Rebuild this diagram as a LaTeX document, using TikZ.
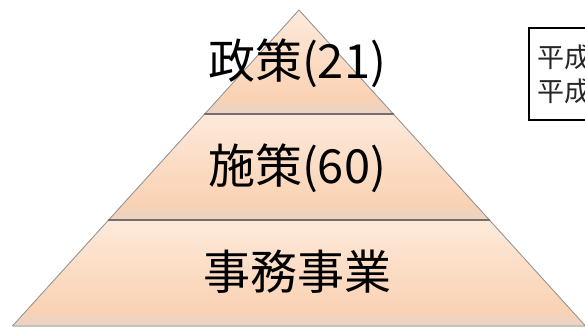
\documentclass[tikz,border=0pt]{standalone}
\usepackage{fontspec}
\usepackage{tikz}
\usepackage{tkz-euclide}
\usepackage{xcolor}
\setmainfont{Noto Sans CJK JP}

\definecolor{bandtop}{RGB}{253,234,219}
\definecolor{bandmid}{RGB}{250,210,180}
\definecolor{bandlow}{RGB}{233,212,198}
\definecolor{sepgray}{RGB}{120,110,105}
\pgfdeclareverticalshading{peach}{100bp}{color(0bp)=(bandlow); color(25bp)=(bandlow);
  color(33bp)=(bandmid); color(75bp)=(bandtop); color(100bp)=(bandtop)}

\begin{document}
\begin{tikzpicture}[x=1pt,y=1pt,
    band/.style={shade,shading=peach},
    outline/.style={draw=gray!80,line width=0.9pt},
    sepline/.style={draw=sepgray,line width=1.8pt},
    level/.style={font=\fontsize{47}{50}\selectfont},
    memo/.style={draw,line width=2.4pt,anchor=north west,minimum height=92pt,
      text width=80pt,inner xsep=8pt,align=left,
      font=\fontsize{27}{34}\selectfont,text=black!85}]
    \clip (0,0) rectangle (585,334);
    \tkzDefPoints{299/324/A,204.7/220/B,393.3/220/C,108.6/114/D,489.4/114/E,12.5/8/F,585.5/8/G}
    % \tkzDrawPoints(A,B,C,D,E,F,G)
    \tkzFillPolygon[band](A,B,C)
    \tkzFillPolygon[band](B,D,E,C)
    \tkzFillPolygon[band](D,F,G,E)
    \tkzDrawPolygon[outline](A,F,G)
    \tkzDrawSegments[sepline](B,C D,E)
    \node[level] (policy) at (297,271) {政策(21)};
    \node[level] (measure) at (297,166) {施策(60)};
    \node[level] (project) at (297,62) {事務事業};
    \node[memo] (note) at (528,307) {平成\\平成};
\end{tikzpicture}
\end{document}
